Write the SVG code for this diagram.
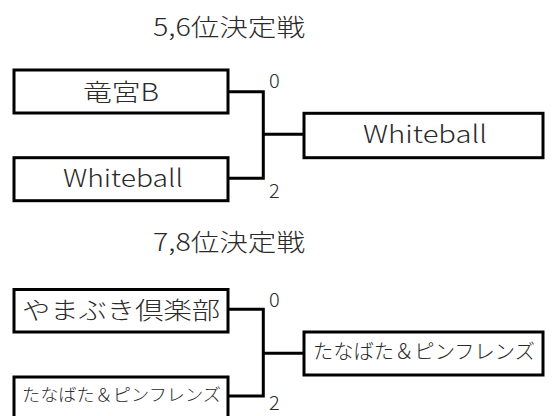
<svg xmlns="http://www.w3.org/2000/svg" width="552" height="416" viewBox="0 0 552 416">
<style>
.box{fill:#fff;stroke:#000;stroke-width:3}
.ln{fill:none;stroke:#000;stroke-width:3}
text{font-family:"Noto Sans CJK JP","Noto Sans",sans-serif;fill:#2a2a2a;font-weight:300}
.t{font-size:24px}
.s{font-size:20px}
</style>
<rect width="552" height="416" fill="#fff"/>
<g id="title1"><text class="t" x="153" y="36" textLength="152" lengthAdjust="spacingAndGlyphs">5,6位決定戦</text></g>
<g id="title2"><text class="t" x="153" y="251" textLength="152" lengthAdjust="spacingAndGlyphs">7,8位決定戦</text></g>
<g id="connectors">
<path class="ln" d="M228 91.7H263.3V178.3H228M263.3 134.3H304"/>
<path class="ln" d="M228 309.3H263.3V396H228M263.3 353.3H304"/>
</g>
<g id="n1"><rect class="box" x="14" y="70" width="214" height="43"/><text class="t" x="83" y="101" textLength="76" lengthAdjust="spacingAndGlyphs">竜宮B</text></g>
<g id="n2"><rect class="box" x="14" y="157.7" width="214" height="43"/><text class="t" x="63" y="187" textLength="120" lengthAdjust="spacingAndGlyphs">Whiteball</text></g>
<g id="n3"><rect class="box" x="304" y="113.3" width="239" height="44.4"/><text class="t" x="363" y="143" textLength="124" lengthAdjust="spacingAndGlyphs">Whiteball</text></g>
<g id="n4"><rect class="box" x="14" y="289.5" width="214" height="42.5"/><text class="t" x="22" y="319" textLength="198" lengthAdjust="spacingAndGlyphs">やまぶき倶楽部</text></g>
<g id="n5"><rect class="box" x="14" y="377" width="214" height="50"/><text style="font-size:17px" x="22" y="401" textLength="199" lengthAdjust="spacingAndGlyphs">たなばた＆ピンフレンズ</text></g>
<g id="n6"><rect class="box" x="304" y="332" width="239" height="43"/><text class="s" x="313" y="359" textLength="222" lengthAdjust="spacingAndGlyphs">たなばた＆ピンフレンズ</text></g>
<g id="scores">
<text class="s" x="269" y="88">0</text>
<text class="s" x="269" y="198">2</text>
<text class="s" x="269" y="307">0</text>
<text class="s" x="269" y="410">2</text>
</g>
</svg>
